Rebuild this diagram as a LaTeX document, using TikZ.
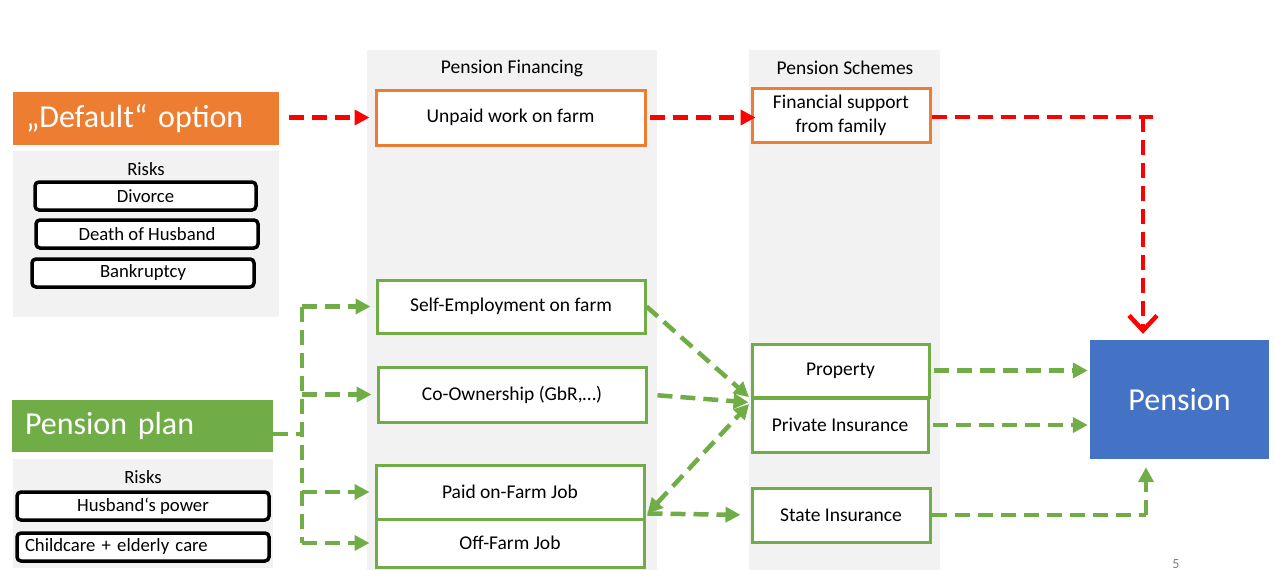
\documentclass[tikz,border=0pt]{standalone}
\usepackage{fontspec}
\setmainfont{Carlito}
\usetikzlibrary{arrows.meta,calc}
\definecolor{gorange}{HTML}{ED7D31}
\definecolor{ggreen}{HTML}{70AD47}
\definecolor{gblue}{HTML}{4472C4}
\definecolor{ggray}{HTML}{F2F2F2}
\definecolor{gred}{HTML}{FF0000}
\begin{document}
\begin{tikzpicture}[x=1pt,y=-1pt,
  panel/.style={fill=ggray,draw=none,inner sep=0pt},
  txt/.style={font=\fontsize{19.5}{24}\selectfont,inner sep=0pt},
  rtxt/.style={font=\fontsize{18.7}{22}\selectfont,inner sep=0pt},
  gbox/.style={draw=ggreen,line width=3pt,fill=white,txt},
  obox/.style={draw=gorange,line width=3pt,fill=white,txt},
  riskbox/.style={draw=black,line width=3.5pt,rounded corners=4pt,fill=white,rtxt},
  bigbox/.style={draw=none,text=white,font=\fontsize{32}{36}\selectfont,inner ysep=0pt,inner xsep=13pt,align=left},
  gdash/.style={draw=ggreen,line width=4.5pt,dash pattern=on 15pt off 8pt},
  rdash/.style={draw=gred,line width=4.5pt,dash pattern=on 15pt off 8pt},
  tri/.style={-{Triangle[length=15pt,width=15pt]}},
  bitri/.style={{Triangle[length=15pt,width=15pt]}-{Triangle[length=15pt,width=15pt]}},
]
\useasboundingbox (0,0) rectangle (1275,570);

% column panels
\node[panel,minimum width=290pt,minimum height=520pt] (colA) at (512,310) {};
\node[panel,minimum width=191pt,minimum height=520pt] (colB) at (844.5,310) {};
\node[txt] (hA) at (512,68) {Pension Financing};
\node[txt] (hB) at (845,68) {Pension Schemes};

% left side: default option
\node[bigbox,fill=gorange,minimum height=53pt,text width=240pt] (default) at (146,118.5) {„Default“ option};
\node[panel,minimum width=266pt,minimum height=166pt] (risksA) at (146,234) {};
\node[rtxt] (rA) at (146,169) {Risks};
\node[riskbox,minimum width=221pt,minimum height=28pt] (divorce) at (145.5,196) {Divorce};
\node[riskbox,minimum width=222pt,minimum height=28pt] (death) at (147,234) {Death of Husband};
\node[riskbox,minimum width=222pt,minimum height=28pt] (bankr) at (143,273) {Bankruptcy};

% left side: pension plan
\node[bigbox,fill=ggreen,minimum height=52pt,text width=235pt] (pplan) at (142.5,426) {Pension plan};
\node[panel,minimum width=260pt,minimum height=109pt] (risksB) at (143,513.5) {};
\node[rtxt] (rB) at (143,477) {Risks};
\node[riskbox,minimum width=252pt,minimum height=28pt] (husband) at (143,506) {Husband‘s power};
\node[riskbox,minimum width=252pt,minimum height=28pt,align=left,text width=236pt,inner xsep=8pt] (childcare) at (143,547) {Childcare + elderly care};

% middle column
\node[obox,minimum width=269pt,minimum height=55pt] (unpaid) at (510.5,117.5) {Unpaid work on farm};
\node[gbox,minimum width=268pt,minimum height=53pt] (self) at (511,306.5) {Self-Employment on farm};
\node[gbox,minimum width=268pt,minimum height=55pt] (coown) at (512,394.5) {Co-Ownership (GbR,…)};
\node[gbox,minimum width=268pt,minimum height=54pt] (paid) at (510,492) {Paid on-Farm Job};
\node[gbox,minimum width=268pt,minimum height=48pt] (off) at (510,543) {Off-Farm Job};

% right column
\node[obox,minimum width=178pt,minimum height=54pt,align=center] (fin) at (841,115) {Financial support\\from family};
\node[gbox,minimum width=177pt,minimum height=53pt] (property) at (840.5,370.5) {Property};
\node[gbox,minimum width=176pt,minimum height=54pt] (private) at (840,425) {Private Insurance};
\node[gbox,minimum width=178pt,minimum height=54pt] (state) at (841,515) {State Insurance};

% pension
\node[draw=none,fill=gblue,text=white,font=\fontsize{32}{36}\selectfont,minimum width=179pt,minimum height=119pt] (pension) at (1179.5,399.5) {Pension};

% page number
\node[text=gray,font=\fontsize{14}{14}\selectfont,inner sep=0pt,anchor=south] (pgnum) at (1176,569) {5};

% red connectors
\draw[rdash,tri,shorten <=10pt,shorten >=5pt] (default.east |- unpaid.west) -- (unpaid.west);
\draw[rdash,tri,shorten <=3pt,shorten >=-5pt] (unpaid.east) -- (unpaid.east -| fin.west);
\coordinate (rc) at (1143,117);
\coordinate (rend) at (1153,117);
\draw[rdash] (fin.east |- rc) -- (rend);
\draw[rdash,-{Straight Barb[length=15pt,width=28pt,line width=4.5pt]},shorten >=6pt] (rc) -- (rc |- pension.north);

% green connectors
\coordinate (ppout) at ($(pplan.east)+(0,8)$);
\coordinate (tj) at (302,434);
\draw[gdash] (ppout) -- (tj);
\draw[gdash] (tj |- self.west) -- (tj |- off.west);
\draw[gdash,tri,shorten >=5pt] (tj |- self.west) -- (self.west);
\draw[gdash,tri,shorten >=5pt] (tj |- coown.west) -- (coown.west);
\draw[gdash,tri,shorten >=5pt] (tj |- paid.west) -- (paid.west);
\draw[gdash,tri,shorten >=5pt] (tj |- off.west) -- (off.west);

\coordinate (hub) at ($(property.south west)+(0,0)$);
\draw[gdash,tri,shorten >=2pt] (self.east) -- (hub);
\draw[gdash,tri,shorten <=10pt,shorten >=2pt] (coown.east) -- ($(hub)+(0,4)$);
\coordinate (pj) at ($(paid.south east)+(2,-7)$);
\draw[gdash,bitri,shorten >=2pt] (pj) -- ($(hub)+(0,4)$);
\draw[gdash,tri,shorten >=10pt] (pj) -- (state.west);

\draw[gdash,tri,shorten <=3pt,shorten >=2pt] (property.east) -- (property.east -| pension.west);
\draw[gdash,tri,shorten <=3pt,shorten >=2pt] (private.east) -- (private.east -| pension.west);
\coordinate (sc) at (1146,515);
\draw[gdash] (state.east) -- (sc);
\draw[gdash,tri,shorten >=8pt] (sc) -- (sc |- pension.south);
\end{tikzpicture}
\end{document}
